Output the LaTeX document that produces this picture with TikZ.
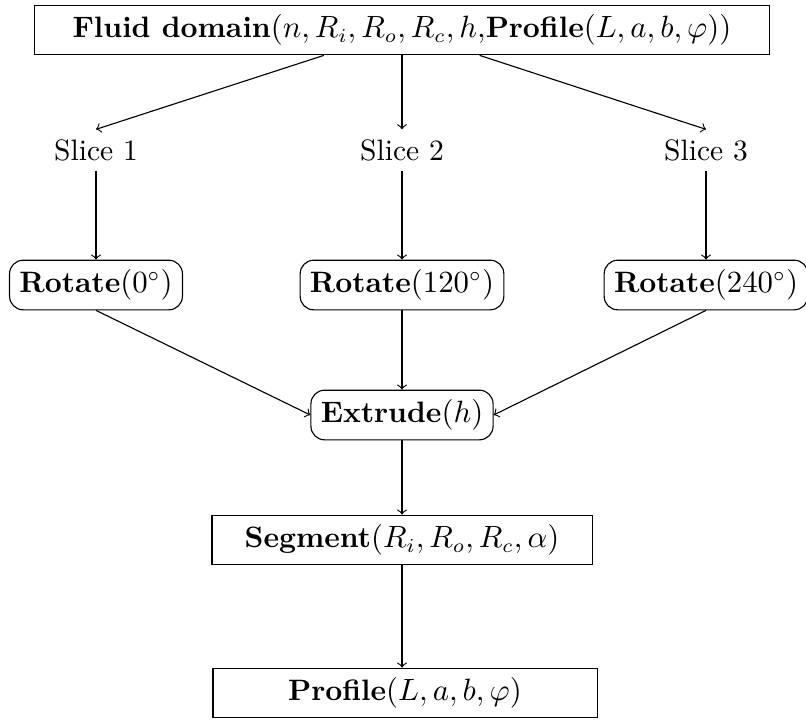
\documentclass[tikz,border=0pt]{standalone}
\usepackage{tikz}
\usetikzlibrary{calc}

\begin{document}
\begin{tikzpicture}[x=0.0125cm,y=-0.0125cm,
  every node/.style={font=\fontsize{10.5}{12.5}\selectfont},
  blockbox/.style={draw,rectangle,minimum height=0.62cm,inner xsep=4pt},
  stepround/.style={draw,rectangle,rounded corners=0.17cm,minimum height=0.62cm,inner xsep=3.5pt},
  flow/.style={->,thin}]
\useasboundingbox (0,0) rectangle (806,720);
% top block
\node[blockbox,minimum width=9.19cm] (fluid) at (402,30)
  {\textbf{Fluid domain}$(n,R_i,R_o,R_c,h,$\textbf{Profile}$(L,a,b,\varphi))$};
% slices
\node (slice1) at (96,150) {Slice 1};
\node (slice2) at (402,150) {Slice 2};
\node (slice3) at (706,150) {Slice 3};
% rotations
\node[stepround] (rot1) at (96,285) {\textbf{Rotate}$(0^\circ)$};
\node[stepround] (rot2) at (402,285) {\textbf{Rotate}$(120^\circ)$};
\node[stepround] (rot3) at (706,285) {\textbf{Rotate}$(240^\circ)$};
% extrude, segment, profile
\node[stepround] (extrude) at (402,415) {\textbf{Extrude}$(h)$};
\node[blockbox,minimum width=4.75cm] (segment) at (402,540)
  {\textbf{Segment}$(R_i,R_o,R_c,\alpha)$};
\node[blockbox,minimum width=4.8cm] (profile) at (405,693)
  {\textbf{Profile}$(L,a,b,\varphi)$};

\draw[flow] (fluid) -- (slice1.north);
\draw[flow] (fluid) -- (slice2);
\draw[flow] (fluid) -- (slice3.north);
\draw[flow] (slice1) -- (rot1);
\draw[flow] (slice2) -- (rot2);
\draw[flow] (slice3) -- (rot3);
\draw[flow] (rot1.south) -- (extrude.west);
\draw[flow] (rot2) -- (extrude);
\draw[flow] (rot3.south) -- (extrude.east);
\draw[flow] (extrude) -- (segment);
\draw[flow] (segment) -- (segment |- profile.north);
\end{tikzpicture}
\end{document}
